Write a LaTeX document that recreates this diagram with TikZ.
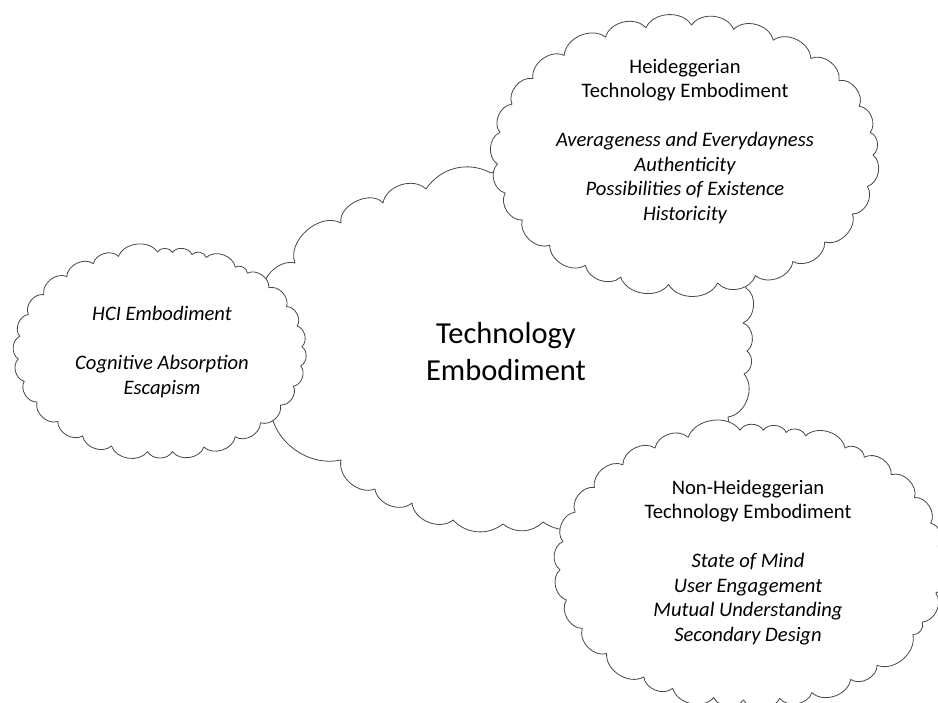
\documentclass[tikz,border=0pt]{standalone}
\usepackage{fontspec}
\setmainfont{Carlito}

% Cloud whose puff cusps lie on an ellipse: centre (#1,#2), radii #3 and #4,
% first cusp at angle #5, remaining cusp angles in #6 (ending at #5+360).
\newcommand\ellcloud[6]{%
  \filldraw[cloudline] ({#1+#3*cos(#5)},{#2+#4*sin(#5)})
    \foreach \a in {#6} { to[puff] ({#1+#3*cos(\a)},{#2+#4*sin(\a)}) } -- cycle;}

\begin{document}
\begin{tikzpicture}[x=1pt,y=-1pt,
  cloudline/.style={draw=black!72, line width=0.8pt, fill=white, line join=round},
  puff/.style={bend left=62, looseness=1},
  flatpuff/.style={bend left=42, looseness=1},
  smalltext/.style={font=\fontsize{20.6}{24.5}\selectfont, align=center, inner sep=0pt},
  bigtext/.style={font=\fontsize{30.5}{37}\selectfont, align=center, inner sep=0pt}]
\useasboundingbox (0,0) rectangle (938,703);
\clip (0,0) rectangle (938,703);

% central cloud (drawn first, the others overlap it)
\filldraw[cloudline] (266,335)
  to[puff] (264,298) to[puff] (295,263) to[bend left=70] (341,223) to[bend left=75] (383,203)
  to[puff] (426,189) to[flatpuff] (491,173) to[puff] (545,205) to[puff] (640,250)
  to[puff] (746,288) to[puff] (743,323) to[puff] (747,351) to[puff] (744,374)
  to[puff] (728,417) to[puff] (650,480) to[puff] (600,515) to[flatpuff] (543,522)
  to[flatpuff] (503,524) to[flatpuff] (453,520) to[puff] (412,503) to[puff] (375,489)
  to[puff] (341,460) to[bend left=50] (270,405) to[puff] (266,335) -- cycle;

% left cloud
\ellcloud{160}{352}{142}{100}{229}{242,253,269,275,283,289,302,308,320,333,345,357,368,380,392,405,418,432,445,455,470,483,496,510,523,536,549,562,575,589}

% upper right cloud
\ellcloud{685}{155}{188}{130}{0}{14,27,42,55,68,80,95,110,122,136,150,163,176,190,203,216,230,245,258,272,285,298,312,325,338,350,360}

% lower right cloud
\ellcloud{750}{565}{190}{135}{228}{240,251,267,274,281,287,300,307,318,330,342,352,362,372,385,391,408,418,431,441,452,461,474,484,499,512,525,538,550,563,575,588}

% labels
\node[bigtext] (core) at (506,351.5) {Technology\\Embodiment};
\node[smalltext] (hci) at (162,352) {\itshape HCI Embodiment\\[24.5pt]\itshape Cognitive Absorption\\\itshape Escapism};
\node[smalltext] (heid) at (685,141.5) {Heideggerian\\Technology Embodiment\\[24.5pt]
  \itshape Averageness and Everydayness\\\itshape Authenticity\\\itshape Possibilities of Existence\\\itshape Historicity};
\node[smalltext] (nonheid) at (748,562.5) {Non-Heideggerian\\Technology Embodiment\\[24.5pt]
  \itshape State of Mind\\\itshape User Engagement\\\itshape Mutual Understanding\\\itshape Secondary Design};
\end{tikzpicture}
\end{document}
